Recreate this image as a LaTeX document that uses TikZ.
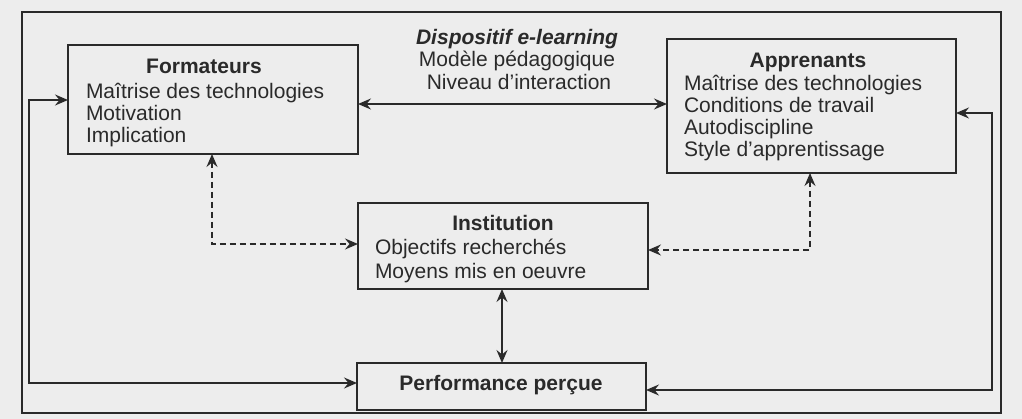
\documentclass[tikz,border=0pt]{standalone}
\usepackage{fontspec}
\setmainfont{Liberation Sans}
\usetikzlibrary{arrows.meta}
\definecolor{ink}{HTML}{2A2A2A}
\definecolor{paper}{HTML}{EDEDED}
\begin{document}
\begin{tikzpicture}[x=1pt,y=-1pt,
  box/.style={draw=ink,line width=1.6pt,rectangle,inner sep=0pt,outer sep=0pt},
  txt/.style={inner sep=0pt,outer sep=0pt,text=ink,font=\fontsize{21}{23}\selectfont},
  ttl/.style={txt,font=\fontsize{21}{23}\selectfont\bfseries},
  line/.style={draw=ink,line width=1.7pt},
  arr/.style={line,{Stealth[length=13pt,width=11pt,inset=4.5pt]}-{Stealth[length=13pt,width=11pt,inset=4.5pt]}},
  darr/.style={arr,dash pattern=on 6pt off 4pt}]
\fill[paper] (0,0) rectangle (1022,419);
\useasboundingbox (0,0) rectangle (1022,419);
\draw[line] (22,12) rectangle (1001,413);

% boxes
\node[box,minimum width=290pt,minimum height=109pt] (form) at (213,99.5) {};
\node[box,minimum width=289pt,minimum height=134pt] (app) at (811.5,106) {};
\node[box,minimum width=290pt,minimum height=86pt] (inst) at (503,246) {};
\node[box,minimum width=289pt,minimum height=47pt] (perf) at (501.5,386.5) {};

% Formateurs text
\node[ttl,anchor=base] (f0) at (204,74) {Formateurs};
\node[txt,anchor=base west] (f1) at (86,99) {Maîtrise des technologies};
\node[txt,anchor=base west] (f2) at (86,121) {Motivation};
\node[txt,anchor=base west] (f3) at (86,143) {Implication};

% Apprenants text
\node[ttl,anchor=base] (a0) at (808,68) {Apprenants};
\node[txt,anchor=base west] (a1) at (684,91) {Maîtrise des technologies};
\node[txt,anchor=base west] (a2) at (684,113) {Conditions de travail};
\node[txt,anchor=base west] (a3) at (684,135) {Autodiscipline};
\node[txt,anchor=base west] (a4) at (684,157) {Style d’apprentissage};

% Institution text
\node[ttl,anchor=base] (i0) at (503,231) {Institution};
\node[txt,anchor=base west] (i1) at (375,255) {Objectifs recherchés};
\node[txt,anchor=base west] (i2) at (375,279) {Moyens mis en oeuvre};

% Performance text
\node[ttl,anchor=base] (p0) at (501,390) {Performance perçue};

% Dispositif text
\node[ttl,anchor=base,font=\fontsize{21}{23}\selectfont\bfseries\itshape] (d0) at (517,45) {Dispositif e-learning};
\node[txt,anchor=base] (d1) at (517,67) {Modèle pédagogique};
\node[txt,anchor=base] (d2) at (519,90) {Niveau d’interaction};

% helper coordinates
\coordinate (H) at (0,104);
\coordinate (L1) at (29,100);
\coordinate (L2) at (29,383);
\coordinate (R1) at (992,113);
\coordinate (R2) at (992,390);
\coordinate (V) at (502,0);
\coordinate (D1) at (212,244);
\coordinate (D2) at (810,250);

% connectors
\draw[arr] (form.east |- H) -- (app.west |- H);
\draw[arr] (form.west |- L1) -- (L1) -- (L2) -- (perf.west |- L2);
\draw[arr] (app.east |- R1) -- (R1) -- (R2) -- (perf.east |- R2);
\draw[arr] (inst.south -| V) -- (perf.north -| V);
\draw[darr] (form.south -| D1) -- (D1) -- (inst.west |- D1);
\draw[darr] (app.south -| D2) -- (D2) -- (inst.east |- D2);
\end{tikzpicture}
\end{document}
